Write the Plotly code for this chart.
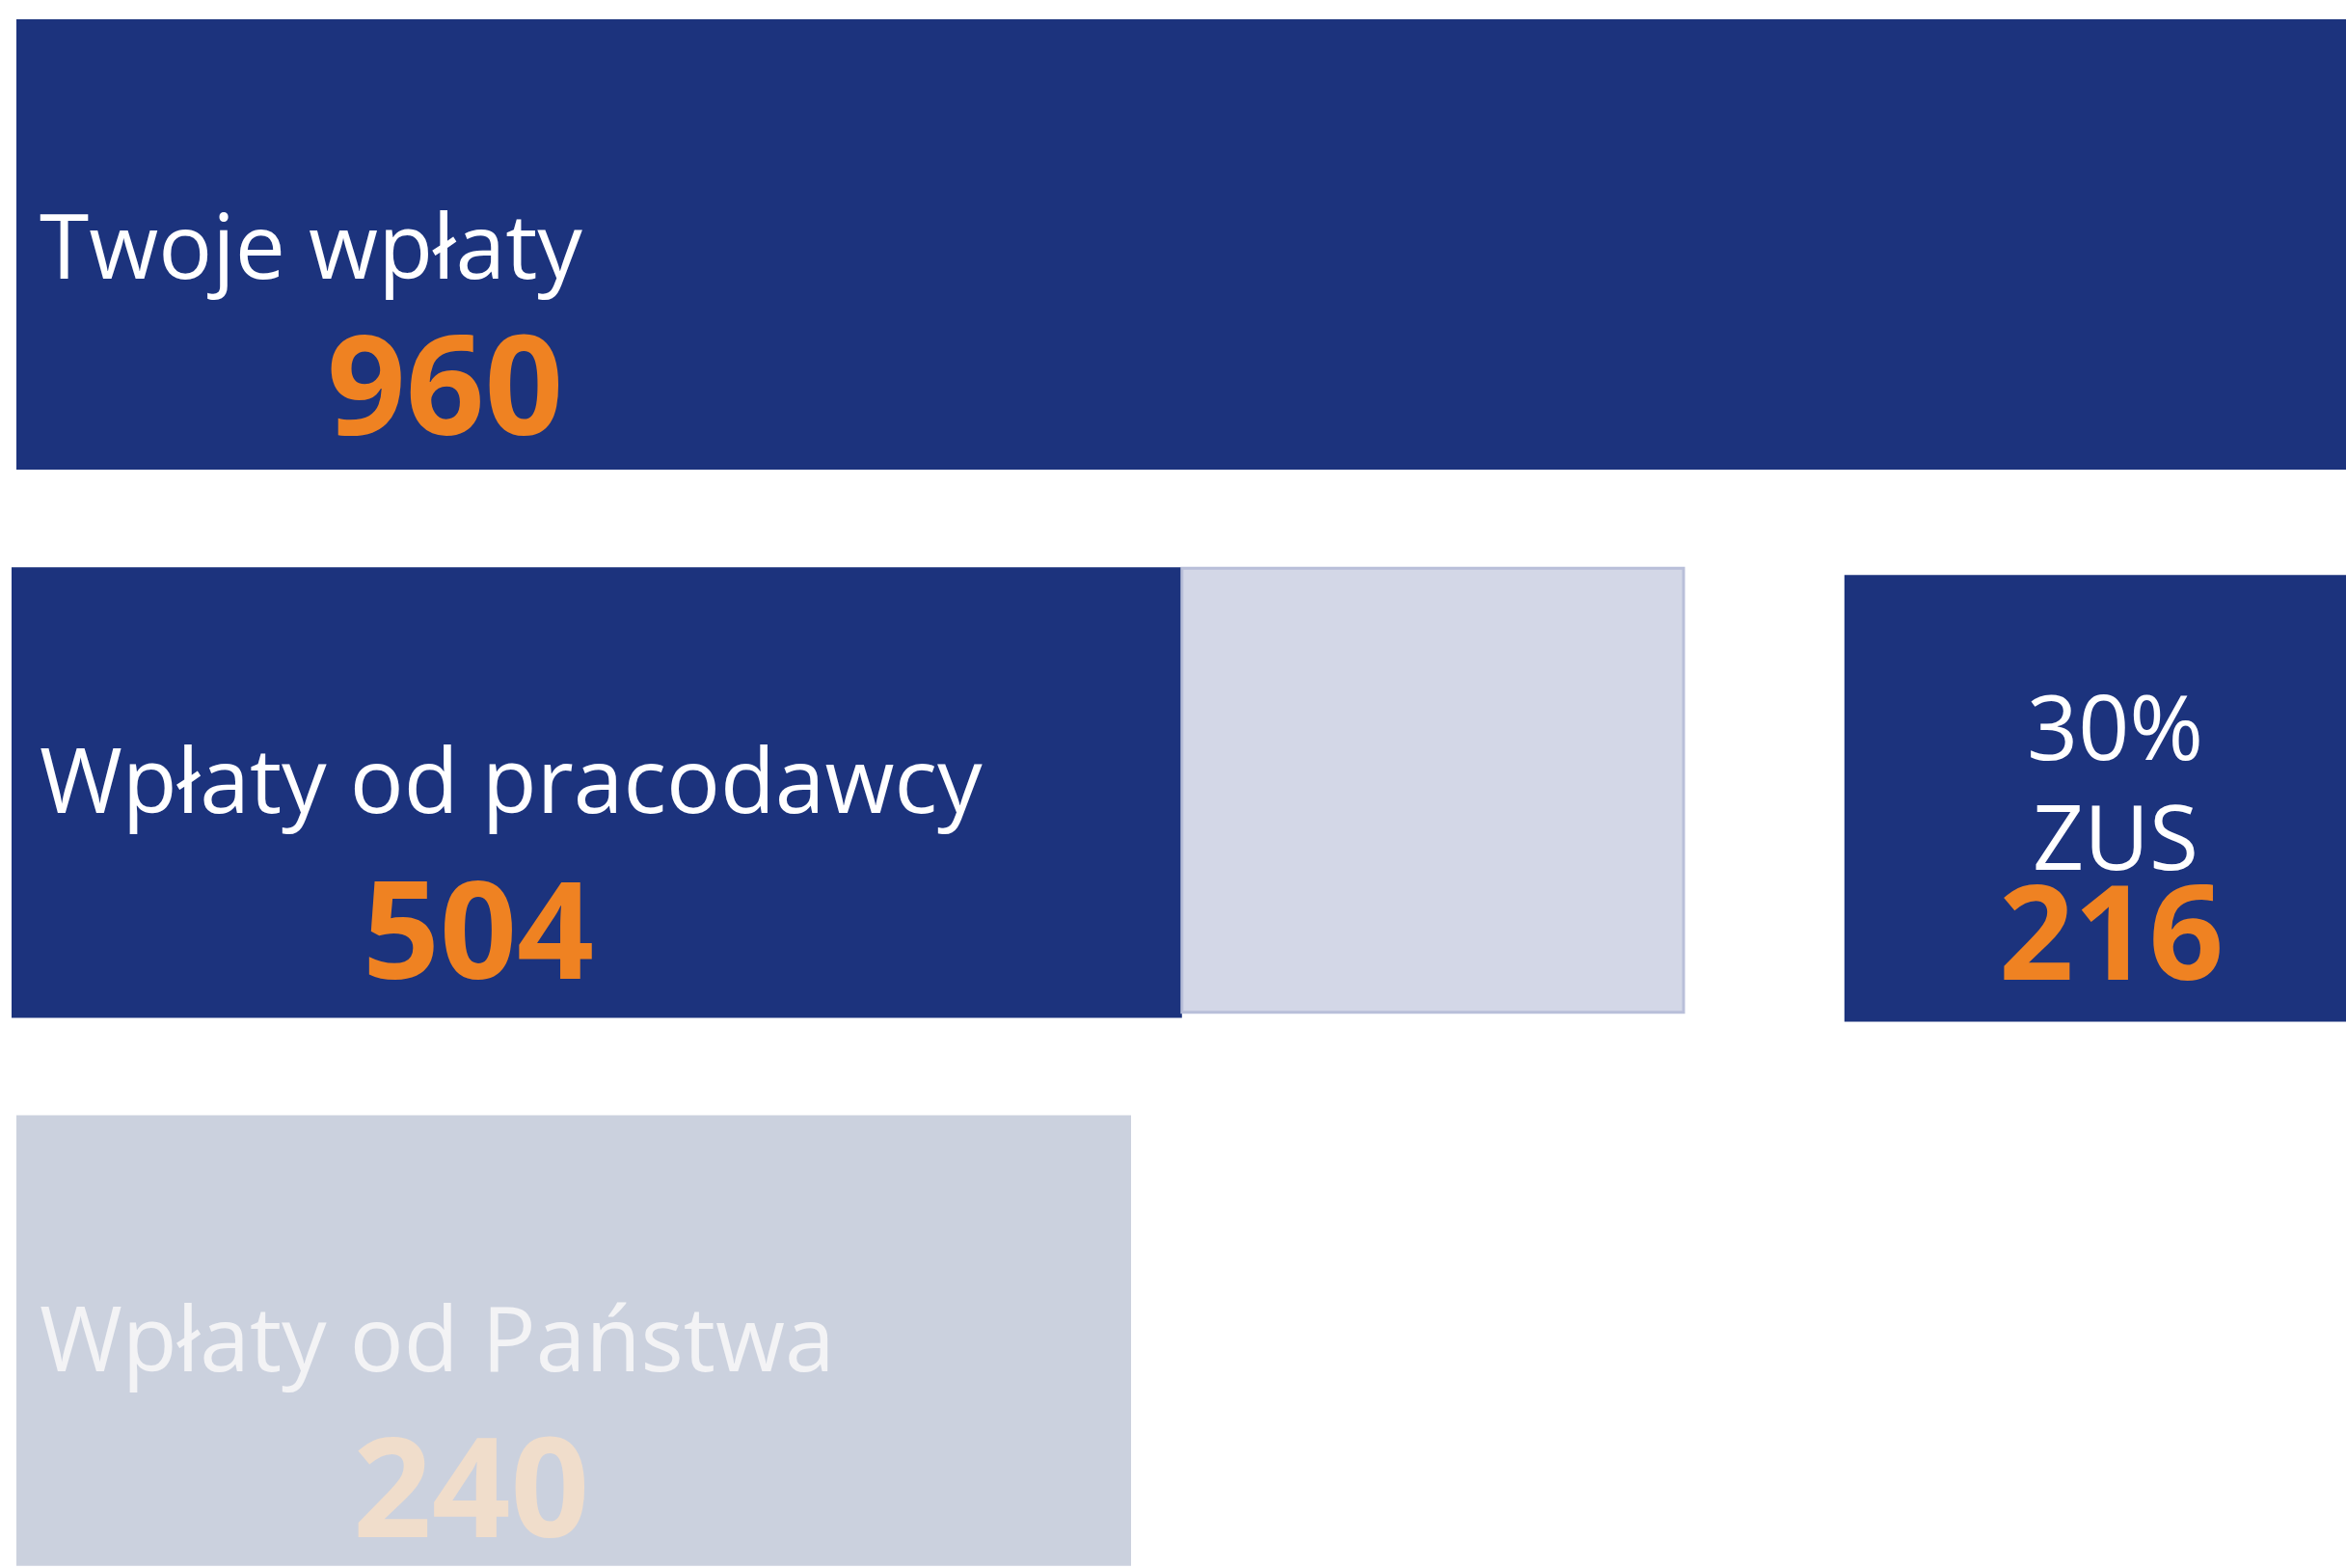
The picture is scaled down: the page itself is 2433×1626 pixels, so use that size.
import plotly.graph_objects as go

# ---- data ----
labels = ["Twoje wpłaty", "Wpłaty od pracodawcy", "Wpłaty od Państwa"]
values = [960, 504, 240]
zus_share = "30%"
zus_label = "ZUS"
zus_value = 216
employer_gross = values[1] + zus_value  # 720

# ---- styling ----
W, H = 2433, 1626
NAVY = "#1C337D"
ORANGE = "#EF8222"
LIGHT_BOX = "#D3D7E7"
LIGHT_BOX_LINE = "#B9BFD9"
STATE_BAR = "#CBD1DE"
STATE_TEXT = "#F3F3F5"
STATE_NUM = "#F0DDCB"
FONT = "Open Sans"

BAR_W = 0.822
# row-2 scale: employer gross (720) spans from left edge 12px to 1746px
R2 = employer_gross * (W - 12) / (1746 - 12)

fig = go.Figure()

# Row 0: Twoje wpłaty
fig.add_trace(go.Bar(y=[0], x=[values[0]], orientation="h", xaxis="x", yaxis="y",
                     marker=dict(color=NAVY, line=dict(width=0)), width=BAR_W))
# Row 1: employer net
fig.add_trace(go.Bar(y=[1], x=[values[1]], orientation="h", xaxis="x2", yaxis="y",
                     marker=dict(color=NAVY, line=dict(width=0)), width=BAR_W))
# Row 1: empty part (ZUS share)
fig.add_trace(go.Bar(y=[1], x=[zus_value], base=[values[1]], orientation="h",
                     xaxis="x2", yaxis="y",
                     marker=dict(color=LIGHT_BOX, line=dict(color=LIGHT_BOX_LINE, width=3)),
                     width=0.81, offset=-0.81 / 2 - 0.004))
# Row 1: ZUS box at right edge
fig.add_trace(go.Bar(y=[1], x=[zus_value], base=[R2 - zus_value], orientation="h",
                     xaxis="x2", yaxis="y",
                     marker=dict(color=NAVY, line=dict(width=0)),
                     width=0.815, offset=-0.815 / 2 + 0.0106))
# Row 2: state
fig.add_trace(go.Bar(y=[2], x=[values[2]], orientation="h", xaxis="x3", yaxis="y",
                     marker=dict(color=STATE_BAR, line=dict(width=0)), width=BAR_W))

ann = []
LBL = 93
NUM = 143


def label(text, xref, x, yrow, xshift, yshift, color="white", size=LBL, weight=400,
          xanchor="left"):
    ann.append(dict(text=text, xref=xref, yref="y", x=x, y=yrow, xanchor=xanchor,
                    yanchor="middle", xshift=xshift, yshift=yshift, showarrow=False,
                    font=dict(family=FONT, size=size, color=color, weight=weight)))


label(labels[0], "x", 0, 0, 22, 0)
label(str(values[0]), "x", 0, 0, 444, -142, color=ORANGE, size=NUM, weight=700, xanchor="center")
label(labels[1], "x2", 0, 1, 27, 15)
label(str(values[1]), "x2", 0, 1, 484, -139, color=ORANGE, size=140, weight=700, xanchor="center")
label(labels[2], "x3", 0, 2, 22, 4, color=STATE_TEXT)
label(str(values[2]), "x3", 0, 2, 471, -148, color=STATE_NUM, size=NUM, weight=700, xanchor="center")

zc = R2 - zus_value / 2
label(zus_share, "x2", zc, 1, 21, 70, xanchor="center")
label(zus_label, "x2", zc, 1, 21, -44, xanchor="center")
label(str(zus_value), "x2", zc, 1, 17, -142, color=ORANGE, size=136, weight=700, xanchor="center")

hidden = dict(visible=False, showgrid=False, zeroline=False, fixedrange=True)
fig.update_layout(
    width=W, height=H,
    margin=dict(l=0, r=0, t=0, b=0),
    paper_bgcolor="white", plot_bgcolor="rgba(0,0,0,0)",
    barmode="overlay", showlegend=False, hovermode=False,
    xaxis=dict(domain=[17 / W, 1], range=[0, values[0]], anchor="y", **hidden),
    xaxis2=dict(domain=[12 / W, 1], range=[0, R2], anchor="y", **hidden),
    xaxis3=dict(domain=[17 / W, 1173 / W], range=[0, values[2]], anchor="y", **hidden),
    yaxis=dict(domain=[0, 1], range=[2.415, -0.446], **hidden),
    annotations=ann,
)

fig.write_html("out.html", config={"displayModeBar": False},
               post_script="document.body.style.margin='0px';document.body.style.overflow='hidden';")
